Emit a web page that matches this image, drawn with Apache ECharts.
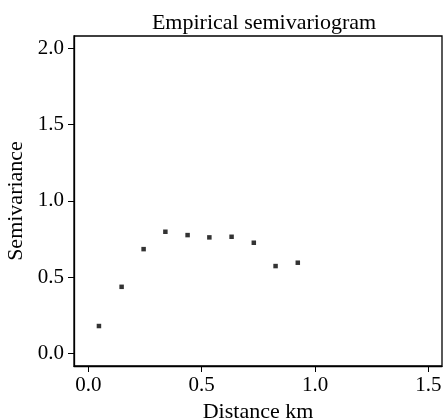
<!DOCTYPE html>
<html><head><meta charset="utf-8">
<script src="https://cdn.jsdelivr.net/npm/echarts@6/dist/echarts.min.js"></script>
<style>html,body{margin:0;padding:0;background:#fff}#c{width:444px;height:419px}</style>
</head><body><div id="c"></div>
<script>
const distances = [0.047, 0.147, 0.244, 0.340, 0.438, 0.534, 0.632, 0.730, 0.826, 0.924];
const semivariance = [0.179, 0.436, 0.683, 0.797, 0.775, 0.760, 0.764, 0.725, 0.572, 0.594];
const xTicks = [0.0, 0.5, 1.0, 1.5];
const yTicks = [0.0, 0.5, 1.0, 1.5, 2.0];
const FONT = 'Liberation Serif';
const chart = echarts.init(document.getElementById('c'), null, {renderer: 'canvas'});
chart.setOption({
  animation: false,
  backgroundColor: '#fff',
  title: {text: 'Empirical semivariogram', left: 259, top: 7, textAlign: 'center',
    textStyle: {fontFamily: FONT, fontSize: 22, fontWeight: 'normal', color: '#000'}},
  grid: {left: 74, top: 36, width: 368, height: 330, show: true, borderColor: '#000', borderWidth: 1.3,
    backgroundColor: 'transparent', containLabel: false, outerBoundsMode: 'none'},
  xAxis: {type: 'value', min: -0.063, max: 1.56,
    name: 'Distance km', nameLocation: 'middle', nameGap: 28,
    nameTextStyle: {fontFamily: FONT, fontSize: 22, color: '#000'},
    axisLine: {show: true, onZero: false, lineStyle: {color: '#000', width: 1.3}},
    axisTick: {show: true, length: 6, lineStyle: {color: '#000', width: 1}, customValues: xTicks},
    axisLabel: {fontFamily: FONT, fontSize: 21, color: '#000', margin: 9, customValues: xTicks,
      formatter: v => v.toFixed(1)},
    splitLine: {show: false}},
  yAxis: {type: 'value', min: -0.083, max: 2.08,
    name: 'Semivariance', nameLocation: 'middle', nameGap: 47, nameRotate: 90,
    nameTextStyle: {fontFamily: FONT, fontSize: 22, color: '#000'},
    axisLine: {show: true, onZero: false, lineStyle: {color: '#000', width: 1.3}},
    axisTick: {show: true, length: 6, lineStyle: {color: '#000', width: 1}, customValues: yTicks},
    axisLabel: {fontFamily: FONT, fontSize: 21, color: '#000', margin: 10, customValues: yTicks,
      formatter: v => v.toFixed(1)},
    splitLine: {show: false}},
  series: [{type: 'scatter', symbol: 'rect', symbolSize: 4.5,
    itemStyle: {color: '#000'},
    data: distances.map((d, i) => [d, semivariance[i]])}]
});
</script></body></html>
